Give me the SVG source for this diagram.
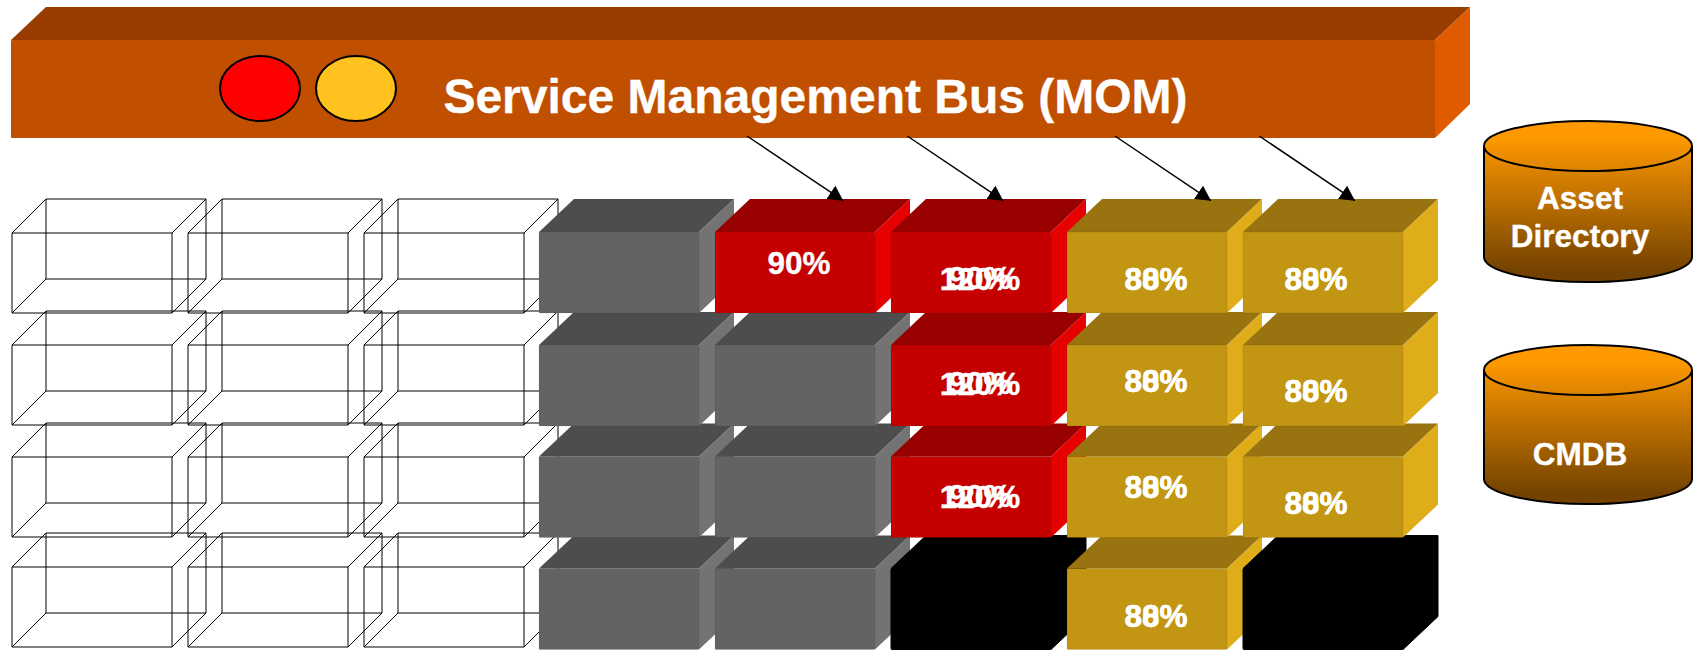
<svg xmlns="http://www.w3.org/2000/svg" width="1700" height="651" viewBox="0 0 1700 651">
<style>
text{font-family:"Liberation Sans",Arial,sans-serif;font-weight:700;fill:#fff;text-anchor:middle;stroke:#fff;stroke-width:.35}
.pct{font-size:31.5px}
.wire{fill:none;stroke:#000;stroke-width:1}
.f{stroke:#000;stroke-opacity:.07;stroke-width:1}
.gray .t{fill:#4d4d4d}.gray .f{fill:#636363}.gray .s{fill:#737373}
.red .t{fill:#990000}.red .f{fill:#c40000}.red .s{fill:#e60000}
.gold .t{fill:#987310}.gold .f{fill:#c29513}.gold .s{fill:#e0ad1a}
.black .t,.black .f,.black .s{fill:#000;stroke:#000;stroke-opacity:1}
.conn{stroke:#000;stroke-width:1.5;fill:none;marker-end:url(#arrow)}
.db{stroke:#000;stroke-width:2}
</style>
<defs>
<marker id="arrow" markerUnits="userSpaceOnUse" markerWidth="16" markerHeight="17" refX="15" refY="8" orient="auto"><path d="M0,0L15,8L0,16Z" fill="#000"/></marker>
<linearGradient id="dbg" x1="0" y1="0" x2="0" y2="1"><stop offset="0.1" stop-color="#ff9900"/><stop offset="0.93" stop-color="#744200"/></linearGradient>
<path id="wc" class="wire" d="M0,0H160V80H0ZM34,-34H194V46H34ZM0,0L34,-34M160,0L194,-34M160,80L194,46M0,80L34,46"/>
</defs>
<g id="bus">
<polygon points="11,40 46,7 1470,7 1435,40" fill="#983c00"/>
<rect x="11" y="40" width="1424" height="98" rx="1" fill="#c04f00"/>
<polygon points="1435,40 1470,7 1470,104 1435,138" fill="#e05a00"/>
<text x="815.5" y="113" font-size="48">Service Management Bus (MOM)</text>
</g>
<g id="status-red"><ellipse cx="260" cy="88.5" rx="40" ry="32.5" fill="#ff0000" stroke="#000" stroke-width="2"/></g>
<g id="status-amber"><ellipse cx="356" cy="88.5" rx="40" ry="32.5" fill="#ffc21e" stroke="#000" stroke-width="2"/></g>
<g id="wire-cubes">
<g id="w4-1"><use href="#wc" x="12" y="567"/></g><g id="w4-2"><use href="#wc" x="188" y="567"/></g><g id="w4-3"><use href="#wc" x="364" y="567"/></g>
<g id="w3-1"><use href="#wc" x="12" y="457"/></g><g id="w3-2"><use href="#wc" x="188" y="457"/></g><g id="w3-3"><use href="#wc" x="364" y="457"/></g>
<g id="w2-1"><use href="#wc" x="12" y="345"/></g><g id="w2-2"><use href="#wc" x="188" y="345"/></g><g id="w2-3"><use href="#wc" x="364" y="345"/></g>
<g id="w1-1"><use href="#wc" x="12" y="233"/></g><g id="w1-2"><use href="#wc" x="188" y="233"/></g><g id="w1-3"><use href="#wc" x="364" y="233"/></g>
</g>
<g id="cubes">
<g id="c4-4" class="gray" transform="translate(539,568.5)"><polygon class="t" points="0,0 35,-33 195,-33 160,0"/><polygon class="s" points="160,0 195,-33 195,48 160,81"/><rect class="f" width="160" height="81" rx="1"/></g>
<g id="c4-5" class="gray" transform="translate(715,568.5)"><polygon class="t" points="0,0 35,-33 195,-33 160,0"/><polygon class="s" points="160,0 195,-33 195,48 160,81"/><rect class="f" width="160" height="81" rx="1"/></g>
<g id="c4-6" class="black" transform="translate(891,568.5)"><polygon class="t" points="0,0 35,-33 195,-33 160,0"/><polygon class="s" points="160,0 195,-33 195,48 160,81"/><rect class="f" width="160" height="81" rx="1"/></g>
<g id="c4-7" class="gold" transform="translate(1067,568.5)"><polygon class="t" points="0,0 35,-33 195,-33 160,0"/><polygon class="s" points="160,0 195,-33 195,48 160,81"/><rect class="f" width="160" height="81" rx="1"/><text class="pct" x="89" y="58.5">80%</text><text class="pct" x="89" y="58.5">88%</text></g>
<g id="c4-8" class="black" transform="translate(1243,568.5)"><polygon class="t" points="0,0 35,-33 195,-33 160,0"/><polygon class="s" points="160,0 195,-33 195,48 160,81"/><rect class="f" width="160" height="81" rx="1"/></g>
<g id="c3-4" class="gray" transform="translate(539,456.5)"><polygon class="t" points="0,0 35,-33 195,-33 160,0"/><polygon class="s" points="160,0 195,-33 195,48 160,81"/><rect class="f" width="160" height="81" rx="1"/></g>
<g id="c3-5" class="gray" transform="translate(715,456.5)"><polygon class="t" points="0,0 35,-33 195,-33 160,0"/><polygon class="s" points="160,0 195,-33 195,48 160,81"/><rect class="f" width="160" height="81" rx="1"/></g>
<g id="c3-6" class="red" transform="translate(891,456.5)"><polygon class="t" points="0,0 35,-33 195,-33 160,0"/><polygon class="s" points="160,0 195,-33 195,48 160,81"/><rect class="f" width="160" height="81" rx="1"/><text class="pct" x="89" y="50">90%</text><text class="pct" x="89" y="51">120%</text></g>
<g id="c3-7" class="gold" transform="translate(1067,456.5)"><polygon class="t" points="0,0 35,-33 195,-33 160,0"/><polygon class="s" points="160,0 195,-33 195,48 160,81"/><rect class="f" width="160" height="81" rx="1"/><text class="pct" x="89" y="41.5">80%</text><text class="pct" x="89" y="41.5">88%</text></g>
<g id="c3-8" class="gold" transform="translate(1243,456.5)"><polygon class="t" points="0,0 35,-33 195,-33 160,0"/><polygon class="s" points="160,0 195,-33 195,48 160,81"/><rect class="f" width="160" height="81" rx="1"/><text class="pct" x="73" y="57.5">80%</text><text class="pct" x="73" y="57.5">88%</text></g>
<g id="c2-4" class="gray" transform="translate(539,345)"><polygon class="t" points="0,0 35,-33 195,-33 160,0"/><polygon class="s" points="160,0 195,-33 195,48 160,81"/><rect class="f" width="160" height="81" rx="1"/></g>
<g id="c2-5" class="gray" transform="translate(715,345)"><polygon class="t" points="0,0 35,-33 195,-33 160,0"/><polygon class="s" points="160,0 195,-33 195,48 160,81"/><rect class="f" width="160" height="81" rx="1"/></g>
<g id="c2-6" class="red" transform="translate(891,345)"><polygon class="t" points="0,0 35,-33 195,-33 160,0"/><polygon class="s" points="160,0 195,-33 195,48 160,81"/><rect class="f" width="160" height="81" rx="1"/><text class="pct" x="89" y="49">90%</text><text class="pct" x="89" y="50">120%</text></g>
<g id="c2-7" class="gold" transform="translate(1067,345)"><polygon class="t" points="0,0 35,-33 195,-33 160,0"/><polygon class="s" points="160,0 195,-33 195,48 160,81"/><rect class="f" width="160" height="81" rx="1"/><text class="pct" x="89" y="47">80%</text><text class="pct" x="89" y="47">88%</text></g>
<g id="c2-8" class="gold" transform="translate(1243,345)"><polygon class="t" points="0,0 35,-33 195,-33 160,0"/><polygon class="s" points="160,0 195,-33 195,48 160,81"/><rect class="f" width="160" height="81" rx="1"/><text class="pct" x="73" y="57">80%</text><text class="pct" x="73" y="57">88%</text></g>
<g id="c1-4" class="gray" transform="translate(539,232)"><polygon class="t" points="0,0 35,-33 195,-33 160,0"/><polygon class="s" points="160,0 195,-33 195,48 160,81"/><rect class="f" width="160" height="81" rx="1"/></g>
<g id="c1-5" class="red" transform="translate(715,232)"><polygon class="t" points="0,0 35,-33 195,-33 160,0"/><polygon class="s" points="160,0 195,-33 195,48 160,81"/><rect class="f" width="160" height="81" rx="1"/><text class="pct" x="84" y="42">90%</text></g>
<g id="c1-6" class="red" transform="translate(891,232)"><polygon class="t" points="0,0 35,-33 195,-33 160,0"/><polygon class="s" points="160,0 195,-33 195,48 160,81"/><rect class="f" width="160" height="81" rx="1"/><text class="pct" x="89" y="57">90%</text><text class="pct" x="89" y="58">120%</text></g>
<g id="c1-7" class="gold" transform="translate(1067,232)"><polygon class="t" points="0,0 35,-33 195,-33 160,0"/><polygon class="s" points="160,0 195,-33 195,48 160,81"/><rect class="f" width="160" height="81" rx="1"/><text class="pct" x="89" y="58">80%</text><text class="pct" x="89" y="58">88%</text></g>
<g id="c1-8" class="gold" transform="translate(1243,232)"><polygon class="t" points="0,0 35,-33 195,-33 160,0"/><polygon class="s" points="160,0 195,-33 195,48 160,81"/><rect class="f" width="160" height="81" rx="1"/><text class="pct" x="73" y="58">80%</text><text class="pct" x="73" y="58">88%</text></g>
</g>
<g id="connectors">
<line class="conn" x1="747" y1="136" x2="843.3" y2="200.7"/>
<line class="conn" x1="907.3" y1="136" x2="1003.3" y2="200.7"/>
<line class="conn" x1="1115" y1="136" x2="1211" y2="200.7"/>
<line class="conn" x1="1259.3" y1="136" x2="1355" y2="200.7"/>
</g>
<g id="asset-directory">
<path class="db" fill="url(#dbg)" d="M1484,146A104,25 0 0 1 1692,146V257A104,25 0 0 1 1484,257Z"/>
<path class="db" fill="none" d="M1484,146A104,25 0 0 0 1692,146"/>
<text class="pct" x="1580" y="209">Asset</text>
<text class="pct" x="1580" y="247">Directory</text>
</g>
<g id="cmdb">
<path class="db" fill="url(#dbg)" d="M1484,370A104,25 0 0 1 1692,370V479A104,25 0 0 1 1484,479Z"/>
<path class="db" fill="none" d="M1484,370A104,25 0 0 0 1692,370"/>
<text class="pct" x="1580" y="465">CMDB</text>
</g>
</svg>
